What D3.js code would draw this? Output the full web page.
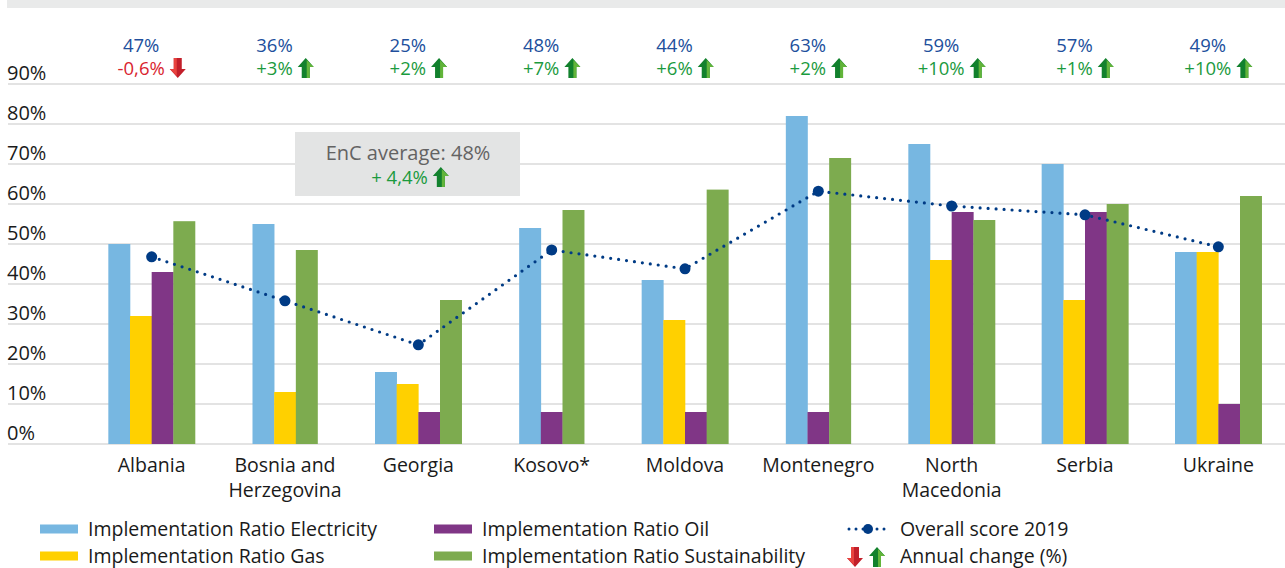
<!DOCTYPE html>
<html>
<head>
<meta charset="utf-8">
<script src="https://cdn.jsdelivr.net/npm/d3@7"></script>
<style>
  body { margin: 0; background: #fff; }
  svg text { font-family: "Open Sans", sans-serif; }
</style>
</head>
<body>
<div id="root"></div>
<script>
const WIDTH = 1285;
const HEIGHT = 568;

// data
const categories = ['Albania', 'Bosnia and Herzegovina', 'Georgia', 'Kosovo*', 'Moldova',
  'Montenegro', 'North Macedonia', 'Serbia', 'Ukraine'];
const categoryLines = [['Albania'], ['Bosnia and', 'Herzegovina'], ['Georgia'], ['Kosovo*'], ['Moldova'],
  ['Montenegro'], ['North', 'Macedonia'], ['Serbia'], ['Ukraine']];
const electricity = [50, 55, 18, 54, 41, 82, 75, 70, 48];
const gas = [32, 13, 15, null, 31, null, 46, 36, 48];
const oil = [43, null, 8, 8, 8, 8, 58, 58, 10];
const sustainability = [55.7, 48.5, 36, 58.5, 63.6, 71.5, 56, 60, 62];
const overallScore = [46.8, 35.8, 24.8, 48.5, 43.8, 63.2, 59.5, 57.3, 49.3];
const scoreLabels = ['47%', '36%', '25%', '48%', '44%', '63%', '59%', '57%', '49%'];
const annualChange = ['-0,6%', '+3%', '+2%', '+7%', '+6%', '+2%', '+10%', '+1%', '+10%'];
const yTicks = [0, 10, 20, 30, 40, 50, 60, 70, 80, 90];
const seriesNames = ['Implementation Ratio Electricity', 'Implementation Ratio Gas',
  'Implementation Ratio Oil', 'Implementation Ratio Sustainability'];
const lineName = 'Overall score 2019';
const arrowName = 'Annual change (%)';
const encAverage = 'EnC average: 48%';
const encChange = '+ 4,4%';

const COLORS = ['#77b7e1', '#ffd000', '#803686', '#7dab4f'];
const NAVY = '#003b85';
const GREEN_TXT = '#1b9a3e';
const RED_TXT = '#d9252f';

const svg = d3.select('#root').append('svg')
  .attr('width', WIDTH)
  .attr('height', HEIGHT);

const x = d3.scaleBand().domain(categories).range([85, 1285]);
const y = d3.scaleLinear().domain([0, 90]).range([444, 84]);
const cx = (c) => x(c) + x.bandwidth() / 2;

// cut-off title band at the top
svg.append('rect').attr('x', 7).attr('y', 0).attr('width', WIDTH - 7).attr('height', 8).attr('fill', '#e9eaea');

// grid + y labels
const grid = svg.append('g');
yTicks.forEach((t) => {
  grid.append('line')
    .attr('x1', 8).attr('x2', WIDTH)
    .attr('y1', y(t)).attr('y2', y(t))
    .attr('stroke', '#dadada').attr('stroke-width', 1.6);
  grid.append('text')
    .attr('x', 7).attr('y', y(t) - 4)
    .attr('font-size', 20).attr('fill', '#1a1a1a')
    .text(t + '%');
});

// bars, only present series, centred in the band
const series = [electricity, gas, oil, sustainability];
const barW = x.bandwidth() * 0.1625;
const bars = svg.append('g');
categories.forEach((c, i) => {
  const present = [0, 1, 2, 3].filter((s) => series[s][i] != null);
  const inner = d3.scaleBand().domain(present)
    .range([cx(c) - present.length * barW / 2, cx(c) + present.length * barW / 2]);
  present.forEach((s) => {
    bars.append('rect')
      .attr('x', inner(s))
      .attr('y', y(series[s][i]))
      .attr('width', inner.bandwidth() + 0.3)
      .attr('height', y(0) - y(series[s][i]))
      .attr('fill', COLORS[s]);
  });
});

// overall score line
const line = d3.line().x((d, i) => cx(categories[i])).y((d) => y(d));
svg.append('path')
  .attr('d', line(overallScore))
  .attr('fill', 'none')
  .attr('stroke', NAVY)
  .attr('stroke-width', 3.2)
  .attr('stroke-linecap', 'round')
  .attr('stroke-dasharray', '0 8');
svg.append('g').selectAll('circle')
  .data(overallScore)
  .join('circle')
  .attr('cx', (d, i) => cx(categories[i]))
  .attr('cy', (d) => y(d))
  .attr('r', 5.5)
  .attr('fill', NAVY);

// arrows
function arrow(g, ax, ay, up) {
  const w = 16, h = 20, head = 9;
  const a = g.append('g');
  if (up) {
    a.append('path').attr('fill', '#12812d')
      .attr('d', `M${ax + w / 2},${ay} L${ax + w},${ay + head} L${ax + w * 0.75},${ay + head} L${ax + w * 0.75},${ay + h} L${ax + w * 0.25},${ay + h} L${ax + w * 0.25},${ay + head} L${ax},${ay + head} Z`);
    a.append('path').attr('fill', '#62b43a')
      .attr('d', `M${ax + w / 2 + 1},${ay + 2} L${ax + w},${ay + head} L${ax + w * 0.75},${ay + head} L${ax + w * 0.75},${ay + h} L${ax + w / 2 + 1},${ay + h} Z`);
  } else {
    a.append('path').attr('fill', '#c21f2a')
      .attr('d', `M${ax + w / 2},${ay + h} L${ax + w},${ay + h - head} L${ax + w * 0.75},${ay + h - head} L${ax + w * 0.75},${ay} L${ax + w * 0.25},${ay} L${ax + w * 0.25},${ay + h - head} L${ax},${ay + h - head} Z`);
    a.append('path').attr('fill', '#e8433f')
      .attr('d', `M${ax + w / 2 - 1},${ay + h - 2} L${ax},${ay + h - head} L${ax + w * 0.25},${ay + h - head} L${ax + w * 0.25},${ay} L${ax + w / 2 - 1},${ay} Z`);
  }
}

// labelled change: text + arrow centred together around centre
function changeLabel(g, centre, base, txt, size) {
  const up = !txt.trim().startsWith('-');
  const t = g.append('text')
    .attr('y', base)
    .attr('font-size', size)
    .attr('fill', up ? GREEN_TXT : RED_TXT)
    .text(txt);
  const tw = t.node().getComputedTextLength();
  const total = tw + 5 + 16;
  const start = centre - total / 2;
  t.attr('x', start);
  arrow(g, start + tw + 5, base - 17, up);
  return start + tw / 2;
}

const topLabels = svg.append('g');
categories.forEach((c, i) => {
  const mid = changeLabel(topLabels, cx(c), 75, annualChange[i], 18.5);
  topLabels.append('text')
    .attr('x', mid).attr('y', 52)
    .attr('text-anchor', 'middle')
    .attr('font-size', 18.5)
    .attr('fill', '#214f9c')
    .text(scoreLabels[i]);
});

// EnC average box
const box = svg.append('g');
box.append('rect').attr('x', 295).attr('y', 132).attr('width', 225).attr('height', 64).attr('fill', '#e3e4e4');
box.append('text').attr('x', 408).attr('y', 160).attr('text-anchor', 'middle')
  .attr('font-size', 20).attr('fill', '#636363').text(encAverage);
changeLabel(box, 410, 184, encChange, 18.5);

// x labels
const xl = svg.append('g');
categories.forEach((c, i) => {
  categoryLines[i].forEach((ln, k) => {
    xl.append('text')
      .attr('x', cx(c)).attr('y', 472 + k * 25)
      .attr('text-anchor', 'middle')
      .attr('font-size', 19.5)
      .attr('fill', '#1a1a1a')
      .text(ln);
  });
});

// legend
const lg = svg.append('g');
const legendPos = [[40, 529], [40, 556], [434, 529], [434, 556]];
seriesNames.forEach((name, s) => {
  const [lx, ly] = legendPos[s];
  lg.append('rect').attr('x', lx).attr('y', ly - 4.5).attr('width', 38).attr('height', 9).attr('fill', COLORS[s]);
  lg.append('text').attr('x', lx + 48).attr('y', ly + 6.5).attr('font-size', 19.5).attr('fill', '#1a1a1a').text(name);
});
lg.append('line').attr('x1', 849).attr('x2', 888).attr('y1', 529).attr('y2', 529)
  .attr('stroke', NAVY).attr('stroke-width', 3).attr('stroke-linecap', 'round').attr('stroke-dasharray', '0 7');
lg.append('circle').attr('cx', 868).attr('cy', 529).attr('r', 5).attr('fill', NAVY);
lg.append('text').attr('x', 900).attr('y', 535.5).attr('font-size', 19.5).attr('fill', '#1a1a1a').text(lineName);
arrow(lg, 847, 547, false);
arrow(lg, 869, 547, true);
lg.append('text').attr('x', 900).attr('y', 562.5).attr('font-size', 19.5).attr('fill', '#1a1a1a').text(arrowName);
</script>
</body>
</html>
